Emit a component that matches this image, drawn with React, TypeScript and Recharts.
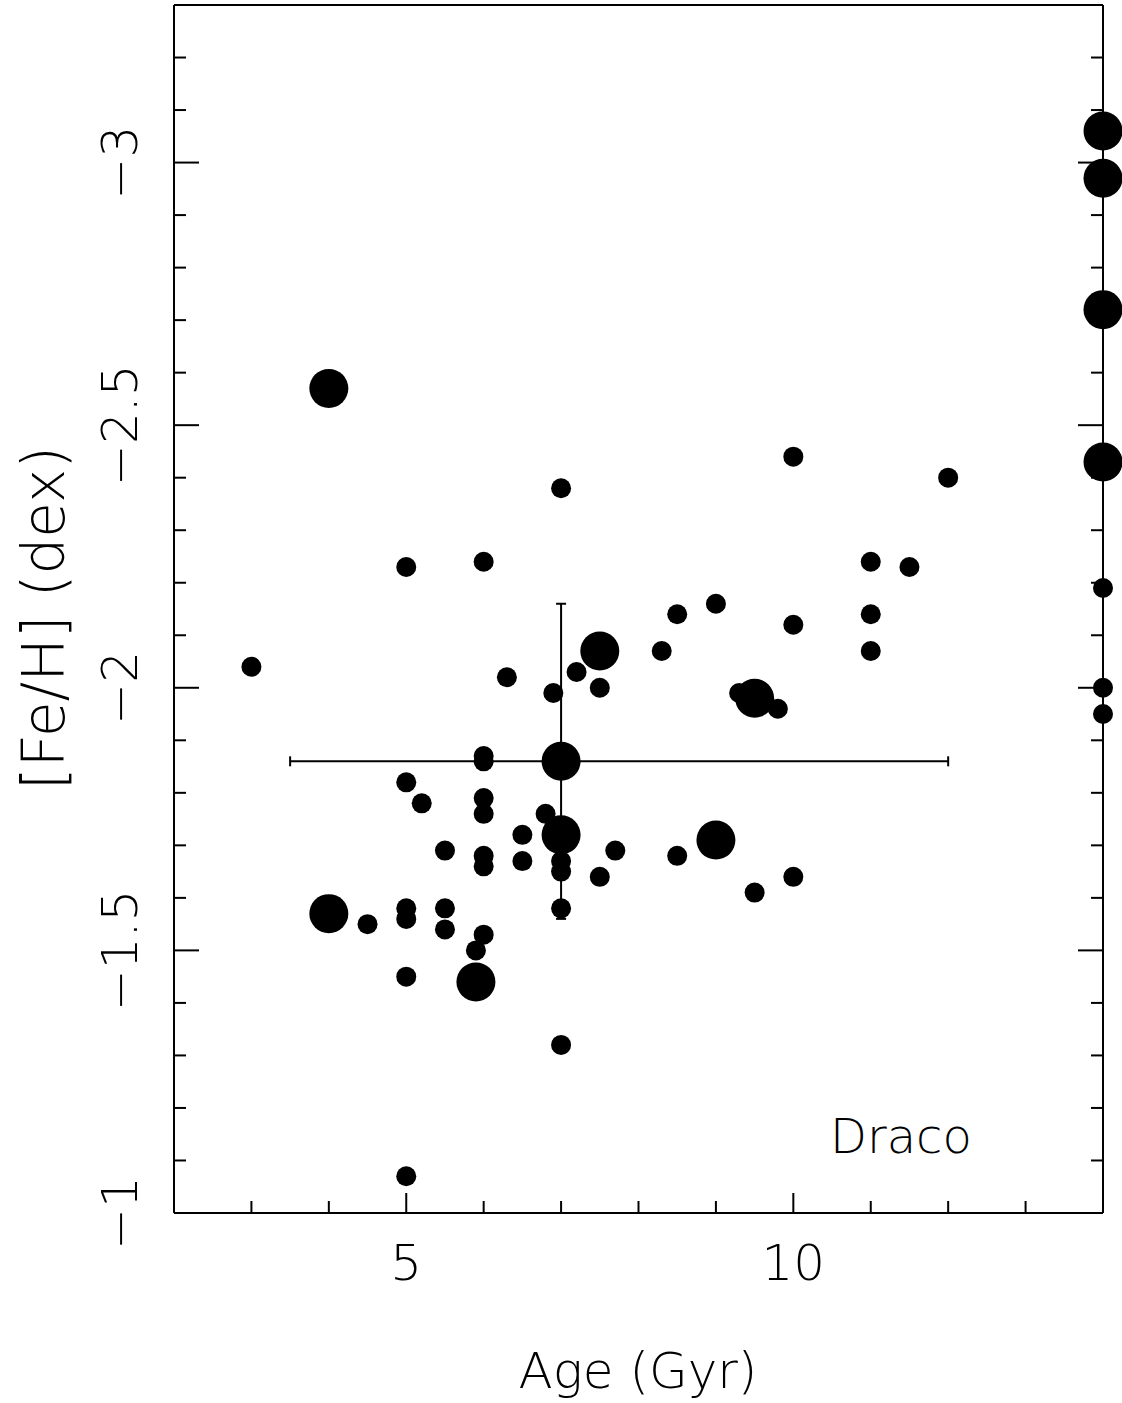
import React from 'react';
import { ScatterChart, Scatter, XAxis, YAxis, ErrorBar } from 'recharts';

// Draco stars, small symbols
const smallAge = [
  3.0, 5.0, 6.0, 7.0, 10.0, 12.0, 11.0, 11.5, 11.0, 11.0, 9.0, 8.5, 8.3, 10.0, 9.3, 9.8, 7.2, 7.5,
  6.9, 6.3, 6.0, 6.0, 5.0, 5.2, 6.0, 6.0, 6.8, 6.5, 5.5, 6.0, 6.0, 6.5, 7.0, 7.0, 7.7, 7.5, 8.5,
  9.5, 10.0, 7.0, 5.0, 5.0, 4.5, 5.5, 5.5, 6.0, 5.9, 5.0, 7.0, 5.0, 14.0, 14.0, 14.0,
];
const smallFeH = [
  -2.04, -2.23, -2.24, -2.38, -2.44, -2.4, -2.24, -2.23, -2.14, -2.07, -2.16, -2.14, -2.07, -2.12,
  -1.99, -1.96, -2.03, -2.0, -1.99, -2.02, -1.87, -1.86, -1.82, -1.78, -1.79, -1.76, -1.76, -1.72,
  -1.69, -1.68, -1.66, -1.67, -1.67, -1.65, -1.69, -1.64, -1.68, -1.61, -1.64, -1.58, -1.58, -1.56,
  -1.55, -1.58, -1.54, -1.53, -1.5, -1.45, -1.32, -1.07, -2.19, -2.0, -1.95,
];

// Draco stars, big symbols
const bigAge = [4.0, 7.5, 9.5, 7.0, 9.0, 4.0, 5.9, 14.0, 14.0, 14.0, 14.0];
const bigFeH = [-2.57, -2.07, -1.98, -1.72, -1.71, -1.57, -1.44, -3.06, -2.97, -2.72, -2.43];

// mean point with its (asymmetric) spread
const meanAge = 7.0;
const meanFeH = -1.86;
const ageErr = [3.5, 5.0];
const fehErr = [0.3, 0.3];

const xTicks = [2, 3, 4, 5, 6, 7, 8, 9, 10, 11, 12, 13, 14];
const xMajor = [5, 10];
const yTicks = [
  -3.3, -3.2, -3.1, -3.0, -2.9, -2.8, -2.7, -2.6, -2.5, -2.4, -2.3, -2.2, -2.1, -2.0, -1.9, -1.8,
  -1.7, -1.6, -1.5, -1.4, -1.3, -1.2, -1.1, -1.0,
];
const yMajor = [-3, -2.5, -2, -1.5, -1];

const smallData = smallAge.map((a, i) => ({ x: a, y: smallFeH[i] }));
const bigData = bigAge.map((a, i) => ({ x: a, y: bigFeH[i] }));
const meanData = [{ x: meanAge, y: meanFeH, ex: ageErr, ey: fehErr }];

const FONT = '"DejaVu Sans", sans-serif';
const INK = '#000';

const isMajorX = (v: number) => xMajor.includes(v);
const isMajorY = (v: number) => yMajor.some((m) => Math.abs(m - v) < 1e-6);
const fmt = (v: number) => (v < 0 ? '\u2212' : '') + Math.abs(v);

const textStyle = { fontFamily: FONT, fontWeight: 200, fill: INK } as const;

const BottomTick = ({ x, y, payload }: any) => {
  const major = isMajorX(payload.value);
  return (
    <g>
      <line x1={x} y1={y} x2={x} y2={y - (major ? 20 : 12)} stroke={INK} strokeWidth={2} />
      {major && (
        <text x={x} y={y + 67} textAnchor="middle" fontSize={50} {...textStyle}>
          {payload.value}
        </text>
      )}
    </g>
  );
};

const TopTick = ({ x, y, payload }: any) => {
  const major = isMajorX(payload.value);
  return <line x1={x} y1={y} x2={x} y2={y + (major ? 20 : 12)} stroke={INK} strokeWidth={2} />;
};

const LeftTick = ({ x, y, payload }: any) => {
  const major = isMajorY(payload.value);
  return (
    <g>
      <line x1={x} y1={y} x2={x + (major ? 25 : 12)} y2={y} stroke={INK} strokeWidth={2} />
      {major && (
        <text
          x={137}
          y={y}
          transform={`rotate(-90 137 ${y})`}
          textAnchor="middle"
          fontSize={50}
          {...textStyle}
        >
          {fmt(payload.value)}
        </text>
      )}
    </g>
  );
};

const RightTick = ({ x, y, payload }: any) => {
  const major = isMajorY(payload.value);
  return <line x1={x} y1={y} x2={x - (major ? 25 : 12)} y2={y} stroke={INK} strokeWidth={2} />;
};

const dot = (r: number) => (p: any) => <circle cx={p.cx} cy={p.cy} r={r} fill={INK} />;

const axisLine = { stroke: INK, strokeWidth: 2 };

export default function App() {
  return (
    <div style={{ position: 'absolute', left: 0, top: 0, background: '#fff' }}>
      <ScatterChart width={1122} height={1403} margin={{ top: 4, right: 18, bottom: 0, left: 0 }}>
        <XAxis
          type="number"
          dataKey="x"
          domain={[2, 14]}
          ticks={xTicks}
          interval={0}
          height={190}
          tickSize={0}
          tickMargin={0}
          tickLine={false}
          axisLine={axisLine}
          tick={BottomTick}
        />
        <XAxis
          xAxisId="top"
          orientation="top"
          type="number"
          domain={[2, 14]}
          allowDataOverflow
          ticks={xTicks}
          interval={0}
          height={1}
          tickSize={0}
          tickMargin={0}
          tickLine={false}
          axisLine={axisLine}
          tick={TopTick}
        />
        <YAxis
          type="number"
          dataKey="y"
          domain={[-3.3, -1]}
          reversed
          ticks={yTicks}
          interval={0}
          width={174}
          tickSize={0}
          tickMargin={0}
          tickLine={false}
          axisLine={axisLine}
          tick={LeftTick}
        />
        <YAxis
          yAxisId="right"
          orientation="right"
          type="number"
          domain={[-3.3, -1]}
          reversed
          allowDataOverflow
          ticks={yTicks}
          interval={0}
          width={1}
          tickSize={0}
          tickMargin={0}
          tickLine={false}
          axisLine={axisLine}
          tick={RightTick}
        />
        <Scatter data={smallData} isAnimationActive={false} shape={dot(10)} />
        <Scatter data={bigData} isAnimationActive={false} shape={dot(19.5)} />
        <Scatter data={meanData} isAnimationActive={false} shape={dot(19.5)}>
          <ErrorBar dataKey="ex" direction="x" width={5} stroke={INK} strokeWidth={2} isAnimationActive={false} />
          <ErrorBar dataKey="ey" direction="y" width={5} stroke={INK} strokeWidth={2} isAnimationActive={false} />
        </Scatter>
        <text x={638} y={1388} textAnchor="middle" fontSize={50} {...textStyle}>
          Age (Gyr)
        </text>
        <text
          x={64}
          y={618}
          transform="rotate(-90 64 618)"
          textAnchor="middle"
          fontSize={58}
          {...textStyle}
        >
          [Fe/H] (dex)
        </text>
        <text x={830} y={1153} fontSize={48} {...textStyle}>
          Draco
        </text>
      </ScatterChart>
    </div>
  );
}
